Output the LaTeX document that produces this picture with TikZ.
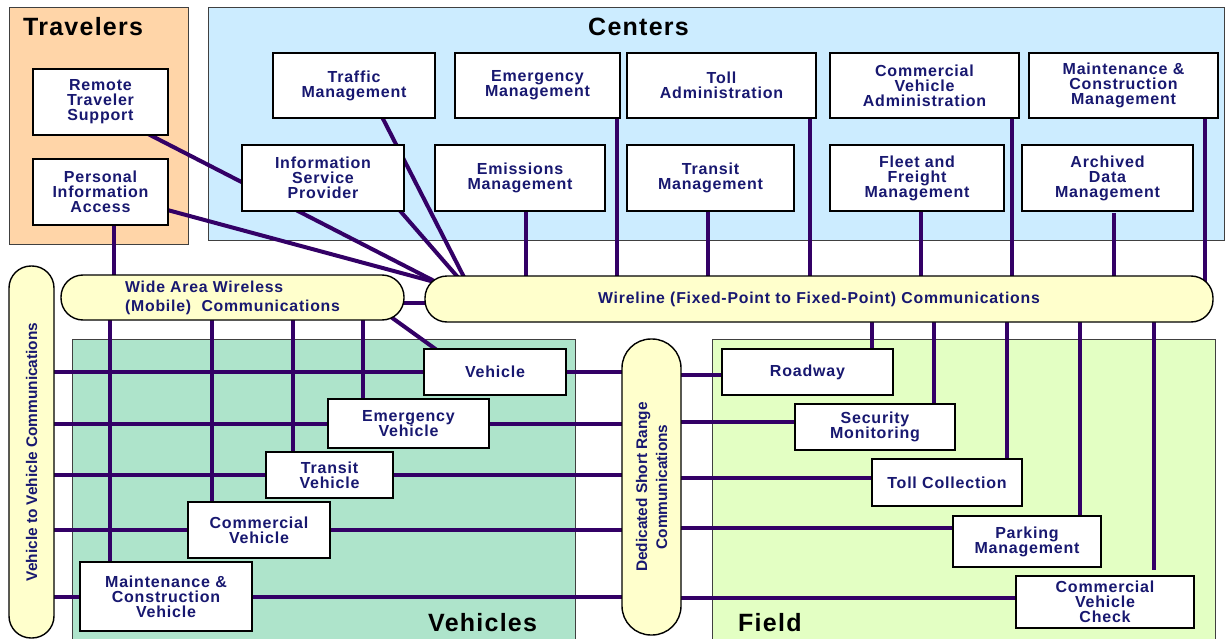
\documentclass[tikz,border=0pt]{standalone}
\usepackage{fontspec}
\setmainfont{Liberation Sans}
\newfontfamily\spaced[LetterSpace=5]{Liberation Sans}
\usetikzlibrary{calc}
\pgfdeclarelayer{regions}
\pgfdeclarelayer{wires}
\pgfsetlayers{regions,wires,main}

\definecolor{travfill}{RGB}{255,213,168}
\definecolor{centfill}{RGB}{204,236,255}
\definecolor{vehfill}{RGB}{174,228,203}
\definecolor{fieldfill}{RGB}{227,255,195}
\definecolor{commfill}{RGB}{255,255,204}
\definecolor{wirecol}{RGB}{51,0,102}
\definecolor{txt}{RGB}{24,24,112}

\tikzset{
  unit/.style={draw=black, line width=1.4pt, fill=white, inner sep=0pt, outer sep=0pt,
    align=center, text=txt, font=\spaced\bfseries\fontsize{16}{15}\selectfont},
  comm/.style={draw=black, line width=1.4pt, fill=commfill, inner sep=0pt, outer sep=0pt,
    align=center, text=txt},
  region/.style={draw=black!75, line width=0.8pt},
  title/.style={font=\spaced\bfseries\fontsize{25}{25}\selectfont, text=black, inner sep=0pt},
  wire/.style={draw=wirecol, line width=4pt},
}

\begin{document}
\begin{tikzpicture}[x=1pt, y=-1pt]
\useasboundingbox (0,0) rectangle (1225,639);

% ---------- class regions ----------
\begin{pgfonlayer}{regions}
  \draw[region, fill=travfill]  (9,7)    rectangle (188,244);
  \draw[region, fill=centfill]  (208,7)  rectangle (1224,240);
  \draw[region, fill=vehfill]   (72,339) rectangle (575,650);
  \draw[region, fill=fieldfill] (712,339) rectangle (1215,650);
\end{pgfonlayer}

\node[title, anchor=base west] (travtitle) at (23,36) {Travelers};
\node[title, anchor=base] (centtitle) at (638.5,36) {Centers};
\node[title, anchor=base west] (vehtitle) at (428,631) {Vehicles};
\node[title, anchor=base west] (fieldtitle) at (738,631) {Field};

% ---------- travelers ----------
\node[unit, minimum width=135pt, minimum height=66pt] (rts) at (100.5,102) {Remote\\Traveler\\Support};
\node[unit, minimum width=135pt, minimum height=66pt] (pia) at (100.5,192) {Personal\\Information\\Access};

% ---------- centers ----------
\node[unit, minimum width=162pt, minimum height=65pt] (tm)  at (354,85.5)   {Traffic\\Management};
\node[unit, minimum width=165pt, minimum height=65pt] (em)  at (537.5,85.5) {Emergency\\Management};
\node[unit, minimum width=189pt, minimum height=65pt] (ta)  at (721.5,85.5) {Toll\\Administration};
\node[unit, minimum width=189pt, minimum height=65pt] (cva) at (924.5,85.5) {Commercial\\Vehicle\\Administration};
\node[unit, minimum width=189pt, minimum height=65pt] (mcm) at (1123.5,85.5) {Maintenance \&\\Construction\\Management};
\node[unit, minimum width=162pt, minimum height=66pt] (isp) at (323,178)    {Information\\Service\\Provider};
\node[unit, minimum width=170pt, minimum height=66pt] (emi) at (520,178)    {Emissions\\Management};
\node[unit, minimum width=167pt, minimum height=66pt] (trm) at (710.5,178)  {Transit\\Management};
\node[unit, minimum width=174pt, minimum height=66pt] (ffm) at (917,178)    {Fleet and\\Freight\\Management};
\node[unit, minimum width=171pt, minimum height=66pt] (adm) at (1107.5,178) {Archived\\Data\\Management};

% ---------- communications ----------
\node[comm, minimum width=343pt, minimum height=45pt, rounded corners=22pt, align=left,
      font=\spaced\bfseries\fontsize{15.8}{19}\selectfont] (waw) at (232.5,297.5)
      {Wide Area Wireless\\(Mobile)\ \ Communications};
\node[comm, minimum width=788pt, minimum height=46pt, rounded corners=22pt,
      font=\spaced\bfseries\fontsize{15.8}{15}\selectfont] (wl) at (819,299)
      {Wireline (Fixed-Point to Fixed-Point) Communications};
\node[comm, rotate=90, minimum width=372pt, minimum height=45pt, rounded corners=22pt,
      font=\bfseries\fontsize{15.4}{19}\selectfont] (v2v) at (31.5,452)
      {Vehicle to Vehicle Communications};
\node[comm, rotate=90, minimum width=296pt, minimum height=59pt, rounded corners=29pt,
      font=\bfseries\fontsize{15.4}{20}\selectfont] (dsrc) at (651.5,487)
      {Dedicated Short Range\\Communications};

% ---------- vehicles ----------
\node[unit, minimum width=142pt, minimum height=46pt] (veh) at (495,372)     {Vehicle};
\node[unit, minimum width=161pt, minimum height=49pt] (ev)  at (408.5,423.5) {Emergency\\Vehicle};
\node[unit, minimum width=127pt, minimum height=46pt] (tv)  at (329.5,475)   {Transit\\Vehicle};
\node[unit, minimum width=142pt, minimum height=56pt] (cv)  at (259,530)     {Commercial\\Vehicle};
\node[unit, minimum width=172pt, minimum height=69pt] (mcv) at (166,596.5)   {Maintenance \&\\Construction\\Vehicle};

% ---------- field ----------
\node[unit, minimum width=171pt, minimum height=46pt] (rw)  at (807.5,372)   {Roadway};
\node[unit, minimum width=160pt, minimum height=46pt] (sm)  at (875,427)     {Security\\Monitoring};
\node[unit, minimum width=150pt, minimum height=47pt] (tc)  at (947,482.5)   {Toll Collection};
\node[unit, minimum width=148pt, minimum height=51pt] (pm)  at (1027,541.5)  {Parking\\Management};
\node[unit, minimum width=178pt, minimum height=52pt] (cvc) at (1105,602)    {Commercial\\Vehicle\\Check};

% ---------- connectors ----------
\begin{pgfonlayer}{wires}
  % centers down to the wireline
  \foreach \n/\a/\dx in {emi/south/6, em/south east/-3, trm/south/-2.5, ta/south east/-6,
                         ffm/south/4, cva/south east/-7, mcm/south east/-13} {
    \coordinate (p) at ([xshift=\dx pt]\n.\a);
    \draw[wire] (p) -- (p |- wl.center);
  }
  \coordinate (padm) at ([xshift=6.5pt]adm.south);
  \draw[wire, shorten <=2pt] (padm) -- (padm |- wl.center);

  % wireline down to the field units
  \foreach \n/\dx in {rw/-21, sm/-21, tc/-15, pm/-21} {
    \coordinate (p) at ([xshift=\dx pt]\n.north east);
    \draw[wire] (p |- wl.center) -- (p);
  }
  \coordinate (pcvc) at ([xshift=-40pt]cvc.north east);
  \draw[wire, shorten >=6pt] (pcvc |- wl.center) -- (pcvc);

  % wide area wireless down to the vehicles
  \foreach \n/\dx in {mcv/30, cv/24, tv/27, ev/35} {
    \coordinate (p) at ([xshift=\dx pt]\n.north west);
    \draw[wire] (p |- waw.center) -- (p);
  }
  \coordinate (ppia) at ([xshift=13.5pt]pia.south);
  \draw[wire] (ppia) -- (ppia |- waw.center);

  % wide area wireless to wireline and to the vehicle
  \coordinate (pww) at ([yshift=-5.5pt]waw.east);
  \draw[wire] (waw.center |- pww) -- (wl.center |- pww);
  \draw[wire] ([shift={(-20pt,-14.5pt)}]waw.east) -- ([shift={(17pt,-4pt)}]veh.north west);

  % lines gathering at the left end of the wireline
  \draw[wire] ([shift={(25pt,7pt)}]tm.south)         -- ([shift={(42pt,16pt)}]wl.west);
  \draw[wire] ([shift={(-9pt,6pt)}]isp.south east)   -- ([shift={(37pt,17pt)}]wl.west);
  \draw[wire] ([shift={(-25pt,3.6pt)}]rts.south east) -- ([shift={(17pt,14pt)}]wl.west);
  \draw[wire] ([shift={(-8pt,-16pt)}]pia.east)       -- ([shift={(17pt,15pt)}]wl.west);

  % vehicle to vehicle rows through to dedicated short range
  \foreach \n in {veh, ev, tv, cv, mcv}
    \draw[wire] (v2v.center |- \n.center) -- (dsrc.center |- \n.center);

  % dedicated short range to the field units
  \foreach \n/\dy in {rw/-3, sm/5, tc/4.5, pm/13.5, cvc/4} {
    \coordinate (p) at ([yshift=\dy pt]\n.center);
    \draw[wire] (dsrc.center |- p) -- (p);
  }
\end{pgfonlayer}
\end{tikzpicture}
\end{document}
